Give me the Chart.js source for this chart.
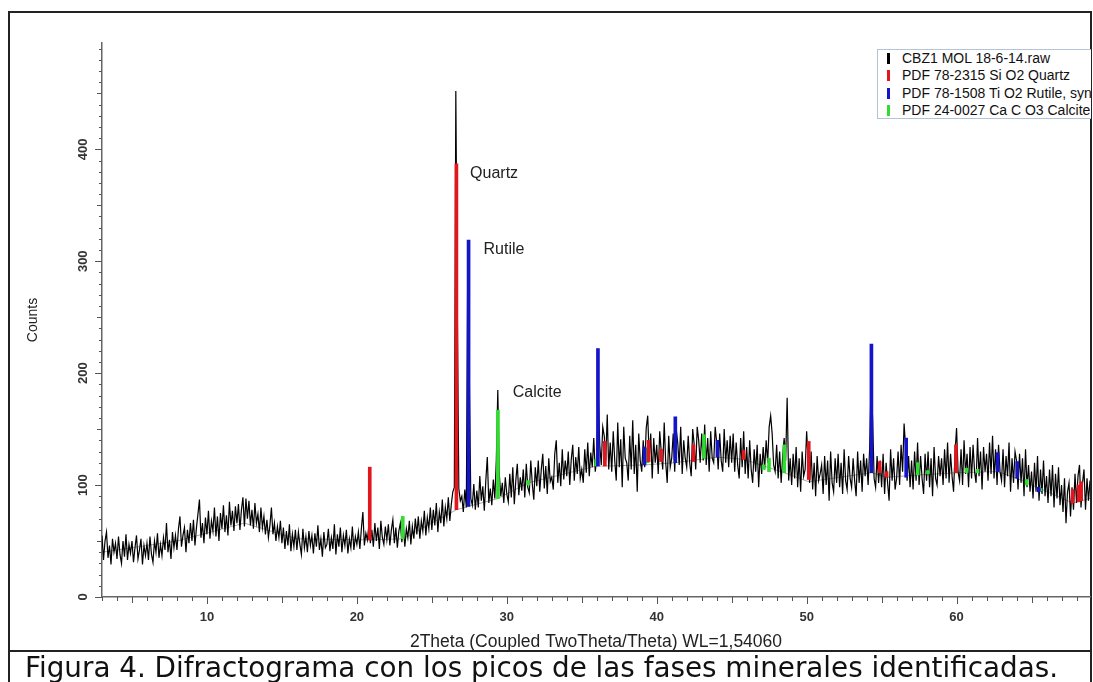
<!DOCTYPE html>
<html>
<head>
<meta charset="utf-8">
<script src="https://cdn.jsdelivr.net/npm/chart.js@4.4.1/dist/chart.umd.min.js"></script>
<style>
  html, body { margin: 0; padding: 0; background: #fff; }
  #page { position: relative; width: 1093px; height: 682px; overflow: hidden; background: #fff; }
  #frame { position: absolute; left: 8px; top: 11px; width: 1080px; height: 700px; border: 2px solid #222; border-bottom: none; }
  #divider { position: absolute; left: 8px; top: 650px; width: 1084px; height: 2px; background: #222; }
  #chartBox { position: absolute; left: 0; top: 0; width: 1093px; height: 651px; }
  #clip { position: absolute; left: 0; top: 0; width: 1091px; height: 651px; overflow: hidden; pointer-events: none; }
  #legend { position: absolute; left: 877px; top: 49px; width: 260px; height: 68px; border: 1px solid #b4c3d8; background: #fff;
            font: 14px "Liberation Sans", Arial, sans-serif; color: #111; }
  .item { position: absolute; left: 0; height: 17px; line-height: 17px; white-space: nowrap; }
  .mark { position: absolute; left: 9px; top: 3px; width: 3px; height: 11px; }
  .txt { position: absolute; left: 24px; top: 0; }
  #caption { position: absolute; left: 25px; top: 652px; font: 27.8px "DejaVu Sans", Verdana, sans-serif; color: #111;
             white-space: nowrap; line-height: 32px; }
</style>
</head>
<body>
<div id="page">
  <div id="frame"></div>
  <div id="chartBox"><canvas id="xrd" width="1093" height="651"></canvas></div>
  <div id="clip"><div id="legend"></div></div>
  <div id="divider"></div>
  <div id="caption">Figura 4. Difractograma con los picos de las fases minerales identificadas.</div>
</div>
<script>
// scan: 2theta from 3.0 in 0.1 deg steps, counts
const twoThetaStart = 3.0;
const twoThetaStep = 0.1;
const counts = [
  55,33,50,58,35,46,29,52,40,48,   // 3
  34,54,38,30,50,36,56,33,47,39,   // 4
  50,31,44,55,34,42,52,29,46,37,   // 5
  48,33,54,38,31,50,40,57,35,47,   // 6
  37,53,42,66,40,51,34,58,44,55,   // 7
  42,61,72,45,55,62,40,60,48,66,   // 8
  50,69,46,62,74,87,53,66,48,71,   // 9
  56,77,52,68,59,80,54,72,50,75,   // 10
  61,82,58,73,55,85,64,77,59,81,   // 11
  66,83,60,78,89,63,88,70,86,64,   // 12
  78,61,84,66,74,58,80,62,72,56,   // 13
  69,53,64,80,56,66,50,63,53,68,   // 14
  48,62,43,59,46,65,41,56,45,60,   // 15
  42,58,47,38,61,44,54,40,59,46,   // 16
  55,39,57,45,64,42,52,36,58,44,   // 17
  47,61,41,53,43,65,38,56,45,62,   // 18
  40,55,46,60,39,52,44,63,42,54,   // 19
  47,58,43,61,76,46,57,51,64,48,   // 20
  60,45,66,50,62,43,68,53,47,63,   // 21
  51,65,46,60,69,48,62,44,59,66,   // 22
  49,64,45,61,53,68,47,63,52,70,   // 23
  56,72,52,68,59,77,55,71,61,80,   // 24
  60,78,64,84,58,76,66,87,63,80,   // 25
  70,89,68,83,94,98,452,257,97,86, // 26
  90,76,96,80,310,196,88,82,101,78, // 27
  95,80,108,86,99,77,104,125,84,97, // 28
  82,105,88,122,185,110,90,102,84,107, // 29
  92,85,110,89,116,83,104,119,91,107, // 30
  95,114,89,119,98,93,122,101,87,116, // 31
  99,122,94,114,128,97,117,92,124,103, // 32
  107,96,128,140,102,120,99,132,105,122, // 33
  108,130,100,123,136,104,125,110,134,106, // 34
  114,102,132,111,138,108,129,116,142,112, // 35
  124,183,136,118,152,144,122,163,114,138, // 36
  112,148,122,104,156,116,141,98,152,124, // 37
  120,104,144,114,158,110,136,94,146,122, // 38
  112,140,116,151,162,124,146,106,142,120, // 39
  136,110,148,130,114,156,120,102,144,116, // 40
  124,146,112,150,138,118,152,110,140,124, // 41
  116,144,120,108,150,136,114,152,140,120, // 42
  146,122,154,118,142,112,148,124,120,152, // 43
  138,114,146,122,112,150,120,140,116,144, // 44
  120,146,112,138,118,106,142,116,148,110, // 45
  134,106,140,114,102,132,112,136,98,128,  // 46
  110,134,114,140,120,152,162,146,118,112, // 47
  136,106,130,102,126,142,122,178,104,124, // 48
  100,128,106,134,98,124,94,130,108,114,   // 49
  148,122,102,130,96,120,90,126,104,110,   // 50
  118,92,126,100,122,86,130,102,94,124,    // 51
  102,128,98,120,92,132,104,96,126,106,    // 52
  98,124,104,90,130,102,122,94,128,108,    // 53
  124,100,132,193,160,106,98,126,102,122,  // 54
  98,128,92,120,102,86,132,104,124,96,     // 55
  106,130,100,136,112,155,134,104,126,98,  // 56
  122,96,130,104,138,100,126,106,92,128,   // 57
  104,130,98,124,90,134,106,100,126,108,   // 58
  124,100,132,106,138,102,128,108,94,130,  // 59
  151,112,104,132,100,140,110,128,98,134,  // 60
  106,136,112,102,142,108,130,96,134,112,  // 61
  128,104,138,110,144,106,132,100,136,112, // 62
  104,132,98,126,108,138,94,124,102,130,   // 63
  122,96,128,102,124,90,132,98,118,94,     // 64
  112,88,120,94,126,86,114,92,122,90,      // 65
  108,84,114,90,118,80,110,88,116,82,      // 66
  100,76,106,66,94,102,72,98,78,110,       // 67
  84,108,118,80,102,114,78,106,86,104      // 68
];

// fitted background (grey)
const bgTheta  = [3, 8, 12.5, 16, 20.86, 23.06, 26.64, 27.45, 29.41, 31.42, 35.97, 36.54, 39.19, 41.24, 44.05, 45.79, 48.51, 50.14, 54.32, 55.33, 57.41, 59.96, 62.74, 64.04, 65.9, 67.74, 68.9];
const bgCounts = [40, 50, 66, 52, 51, 52, 78, 81, 88, 102, 117, 117, 118, 120, 125, 123, 111, 103, 111, 107, 109, 111, 112, 106, 95, 84, 88];

// reference sticks: position, bottom (background), top
const quartzTheta = [20.86, 26.64, 36.54, 39.46, 40.29, 42.45, 45.79, 50.14, 54.87, 55.33, 59.96, 67.74, 68.14, 68.31];
const quartzBase  = [51, 78, 117, 121, 121, 121, 123, 105, 111, 107, 111, 84, 85, 86];
const quartzTop   = [116, 387, 139, 140, 132, 136, 131, 139, 121, 112, 136, 96, 100, 103];

const rutileTheta = [27.45, 36.08, 39.19, 41.24, 44.05, 54.32, 56.64, 62.74, 64.04, 65.48];
const rutileBase  = [81, 117, 118, 120, 125, 111, 107, 112, 106, 94];
const rutileTop   = [319, 222, 134, 161, 140, 226, 142, 129, 121, 98];

const calciteTheta = [23.06, 29.41, 31.42, 35.97, 39.40, 43.15, 47.12, 47.49, 48.51, 57.41, 58.09, 60.67, 61.40, 64.67, 65.60];
const calciteBase  = [52, 88, 100, 117, 120, 124, 114, 112, 111, 109, 110, 111, 111, 100, 95];
const calciteTop   = [72, 167, 104, 123, 133, 145, 118, 124, 136, 120, 113, 115, 114, 105, 97];

const seriesNames  = ['CBZ1 MOL 18-6-14.raw', 'PDF 78-2315 Si O2 Quartz', 'PDF 78-1508 Ti O2 Rutile, syn', 'PDF 24-0027 Ca C O3 Calcite'];
const seriesColors = ['#000000', '#e3161d', '#1414c8', '#2fdc2f'];

const phaseNames  = ['Quartz', 'Rutile', 'Calcite'];
const labelTheta  = [27.55, 28.45, 30.4];
const labelCounts = [378, 310, 183];

const xMin = 3, xMax = 68.9, yMax = 495;
const plotRight = 1090.5;

// legend box (html)
const legendEl = document.getElementById('legend');
const rowTops = [0, 17, 35, 52];
seriesNames.forEach((name, i) => {
  const row = document.createElement('div');
  row.className = 'item';
  row.style.top = rowTops[i] + 'px';
  row.innerHTML = '<span class="mark" style="background:' + seriesColors[i] + '"></span><span class="txt">' + name + '</span>';
  legendEl.appendChild(row);
});

const stickSet = (thetas, base, top, color) => ({
  type: 'bar',
  data: thetas.map((t, i) => ({ x: t, y: [base[i], top[i]] })),
  backgroundColor: color,
  barThickness: 3,
  grouped: false,
  order: 1
});

const tickMarks = {
  id: 'tickMarks',
  afterDraw(chart) {
    const { ctx, chartArea: a, scales: { x, y } } = chart;
    ctx.save();
    ctx.strokeStyle = '#555';
    ctx.lineWidth = 1;
    ctx.beginPath();
    for (let v = 0; v <= y.max; v += 10) {
      const len = v % 100 === 0 ? 7 : (v % 50 === 0 ? 5 : 3);
      const py = Math.round(y.getPixelForValue(v)) + 0.5;
      ctx.moveTo(a.left - len, py);
      ctx.lineTo(a.left, py);
    }
    for (let d = Math.ceil(x.min); d <= x.max; d++) {
      const len = d % 10 === 0 ? 7 : (d % 5 === 0 ? 6 : 4);
      const px = Math.round(x.getPixelForValue(d)) + 0.5;
      ctx.moveTo(px, a.bottom);
      ctx.lineTo(px, a.bottom + len);
    }
    ctx.stroke();
    ctx.restore();
  }
};

const peakLabels = {
  id: 'peakLabels',
  afterDatasetsDraw(chart) {
    const { ctx, scales: { x, y } } = chart;
    ctx.save();
    ctx.font = '16px "Liberation Sans", Arial, sans-serif';
    ctx.fillStyle = '#222';
    ctx.textAlign = 'left';
    ctx.textBaseline = 'middle';
    phaseNames.forEach((t, i) => ctx.fillText(t, x.getPixelForValue(labelTheta[i]), y.getPixelForValue(labelCounts[i])));
    ctx.restore();
  }
};

const chart = new Chart(document.getElementById('xrd').getContext('2d'), {
  type: 'line',
  data: {
    datasets: [
      {
        label: 'background',
        data: bgTheta.map((t, i) => ({ x: t, y: bgCounts[i] })),
        borderColor: '#a8a8a8',
        borderWidth: 1,
        pointRadius: 0,
        order: 3
      },
      {
        label: seriesNames[0],
        data: counts.map((c, i) => ({ x: +(twoThetaStart + i * twoThetaStep).toFixed(2), y: c })),
        borderColor: seriesColors[0],
        borderWidth: 1.2,
        pointRadius: 0,
        tension: 0,
        order: 2
      },
      stickSet(quartzTheta, quartzBase, quartzTop, seriesColors[1]),
      stickSet(rutileTheta, rutileBase, rutileTop, seriesColors[2]),
      stickSet(calciteTheta, calciteBase, calciteTop, seriesColors[3])
    ]
  },
  options: {
    responsive: false,
    animation: false,
    layout: { padding: { top: 43, right: 3, bottom: 0, left: 0 } },
    plugins: { legend: { display: false }, tooltip: { enabled: false } },
    scales: {
      x: {
        type: 'linear',
        min: xMin,
        max: xMax,
        offset: false,
        grid: { display: false },
        border: { display: true, color: '#666', width: 1.5 },
        ticks: {
          stepSize: 1,
          autoSkip: false,
          maxRotation: 0,
          padding: 5,
          color: '#333',
          font: { family: '"Liberation Sans", Arial, sans-serif', size: 13, weight: 'bold' },
          callback: v => (v % 10 === 0 ? v : '')
        },
        title: {
          display: true,
          text: '2Theta (Coupled TwoTheta/Theta) WL=1,54060',
          color: '#222',
          font: { family: '"Liberation Sans", Arial, sans-serif', size: 17.5 },
          padding: { top: 0, bottom: -2 }
        },
        afterFit: s => { s.height = 54; s.paddingLeft = 0; s.paddingRight = 0; }
      },
      y: {
        min: 0,
        max: yMax,
        grid: { display: false },
        border: { display: true, color: '#666', width: 1.5 },
        ticks: {
          stepSize: 10,
          autoSkip: false,
          minRotation: 90,
          maxRotation: 90,
          crossAlign: 'center',
          padding: 0,
          color: '#333',
          font: { family: '"Liberation Sans", Arial, sans-serif', size: 13, weight: 'bold' },
          callback: v => (v % 100 === 0 ? v : '')
        },
        title: {
          display: true,
          text: 'Counts',
          color: '#222',
          font: { family: '"Liberation Sans", Arial, sans-serif', size: 14 },
          padding: { top: 25, bottom: 0 }
        },
        afterFit: s => { s.width = 102; s.paddingTop = 0; s.paddingBottom = 0; }
      }
    }
  },
  plugins: [tickMarks, peakLabels]
});

// keep the plot's right edge at the frame, like the original export
const dr = plotRight - chart.chartArea.right;
if (Math.abs(dr) > 0.5) {
  chart.options.layout.padding.right -= dr;
  chart.update();
}
</script>
</body>
</html>
